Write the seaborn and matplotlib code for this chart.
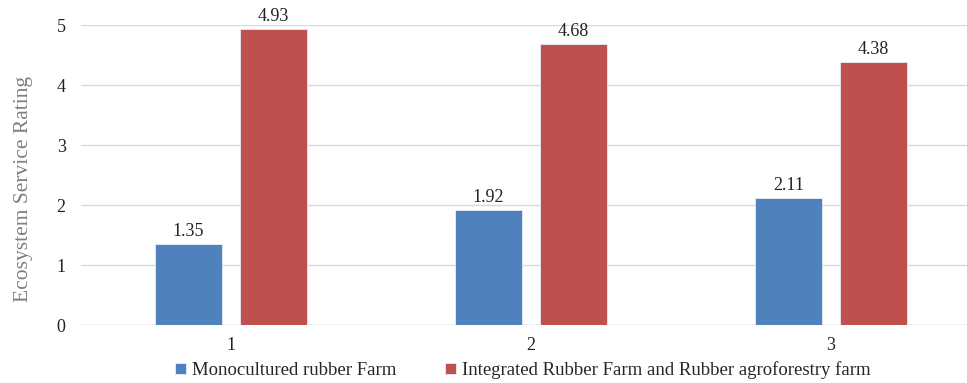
import matplotlib
matplotlib.use("Agg")
import matplotlib.pyplot as plt
import seaborn as sns
import pandas as pd

categories = ["1", "2", "3"]
mono_values = [1.35, 1.92, 2.11]
integrated_values = [4.93, 4.68, 4.38]
series_names = ["Monocultured rubber Farm",
                "Integrated Rubber Farm and Rubber agroforestry farm"]
y_ticks = [0, 1, 2, 3, 4, 5]

df = pd.DataFrame({
    "category": categories * 2,
    "value": mono_values + integrated_values,
    "series": [series_names[0]] * 3 + [series_names[1]] * 3,
})

sns.set_style("white")
plt.rcParams["font.family"] = ["Liberation Serif", "DejaVu Serif"]

fig = plt.figure(figsize=(9.67, 3.83), dpi=100)
ax = fig.add_axes([81 / 967, 1 - 325 / 383, 1 - 81 / 967, 300 / 383])

palette = {series_names[0]: "#4F81BD", series_names[1]: "#C0504D"}
sns.barplot(data=df, x="category", y="value", hue="series", order=categories,
            hue_order=series_names, palette=palette, width=0.567, gap=0.213,
            saturation=1, edgecolor="#e8eef6", linewidth=0.6, ax=ax)

for container in ax.containers:
    ax.bar_label(container, fmt="%.2f", padding=3, fontsize=13, color="#222222")

ax.set_ylim(0, 5)
ax.set_xlim(-0.5, 2.5 - 14 / 300)
ax.set_yticks(y_ticks)
ax.yaxis.grid(True, color="#d9d9d9", linewidth=1)
ax.set_axisbelow(True)
for side in ["left", "right", "top", "bottom"]:
    ax.spines[side].set_visible(False)
ax.axhline(0, color="#d0d0d0", linewidth=1, zorder=0.5)
ax.tick_params(axis="both", length=0, labelsize=13, colors="#222222")
ax.tick_params(axis="x", pad=9)
ax.tick_params(axis="y", pad=11)
ax.set_xlabel("")
ax.set_ylabel("Ecosystem Service Rating", fontsize=15.5, color="#7f7f7f")
ax.yaxis.set_label_coords(-0.054, 0.455)

handles, labels = ax.get_legend_handles_labels()
ax.legend(handles, labels, loc="center", bbox_to_anchor=(0.499, -0.15),
          ncol=2, frameon=False, fontsize=13.5, handlelength=0.55, handleheight=0.55,
          handletextpad=0.35, columnspacing=2.6, borderaxespad=0, borderpad=0)

fig.savefig("out.png", dpi=100)
